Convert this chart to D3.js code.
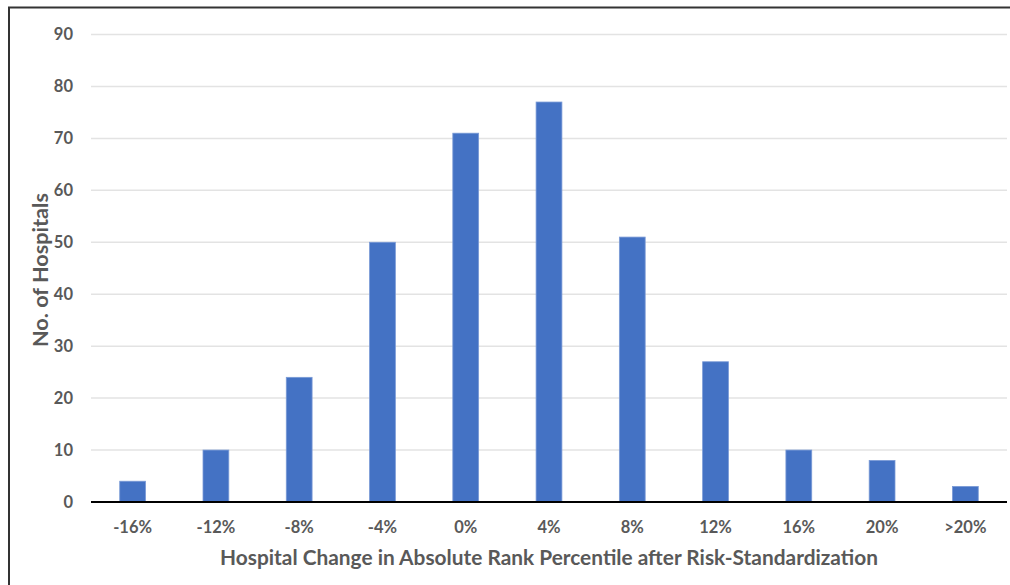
<!DOCTYPE html>
<html><head><meta charset="utf-8">
<script src="https://cdn.jsdelivr.net/npm/d3@7"></script>
<style>body{margin:0;background:#fff}svg{display:block}text{font-family:Lato,"Open Sans",sans-serif;font-weight:bold;fill:#595959}</style>
</head><body>
<svg id="c" width="1010" height="585"></svg>
<script>
const categories = ["-16%","-12%","-8%","-4%","0%","4%","8%","12%","16%","20%",">20%"];
const values = [4,10,24,50,71,77,51,27,10,8,3];
const yTicks = [0,10,20,30,40,50,60,70,80,90];
const xTitle = "Hospital Change in Absolute Rank Percentile after Risk-Standardization";
const yTitle = "No. of Hospitals";

const svg = d3.select("#c");
svg.append("rect").attr("x",9).attr("y",7.5).attr("width",1100).attr("height",700)
  .attr("fill","none").attr("stroke","#333").attr("stroke-width",2);

const pLeft=91, pRight=1007, pTop=34.5, pBottom=502;
const x = d3.scaleBand().domain(categories).range([pLeft,pRight]).paddingInner(0.69).paddingOuter(0.345);
const y = d3.scaleLinear().domain([0,90]).range([pBottom,pTop]);

svg.append("g").selectAll("line").data(yTicks.filter(d=>d>0)).join("line")
  .attr("x1",pLeft).attr("x2",pRight).attr("y1",d=>y(d)).attr("y2",d=>y(d))
  .attr("stroke","#e3e3e3").attr("stroke-width",1.5);

svg.append("g").selectAll("rect").data(values).join("rect")
  .attr("x",(d,i)=>x(categories[i])).attr("width",x.bandwidth())
  .attr("y",d=>y(d)).attr("height",d=>y(0)-y(d))
  .attr("fill","#4472C4").attr("stroke","#7a9ad6").attr("stroke-width",0.8);

svg.append("line").attr("x1",pLeft).attr("x2",pRight).attr("y1",y(0)).attr("y2",y(0))
  .attr("stroke","#000").attr("stroke-width",2);

svg.append("g").selectAll("text").data(yTicks).join("text")
  .attr("x",73).attr("y",d=>y(d)).attr("dy","0.36em").attr("text-anchor","end")
  .attr("font-size",16.5).text(d=>d);

svg.append("g").selectAll("text").data(categories).join("text")
  .attr("x",d=>x(d)+x.bandwidth()/2).attr("y",527).attr("dy","0.36em").attr("text-anchor","middle")
  .attr("font-size",16.5).text(d=>d);

svg.append("text").attr("x",220).attr("y",557).attr("dy","0.36em").attr("text-anchor","start")
  .attr("font-size",21).attr("textLength",658).attr("lengthAdjust","spacingAndGlyphs").text(xTitle);
svg.append("text").attr("transform","translate(40,347) rotate(-90)").attr("dy","0.36em").attr("text-anchor","start")
  .attr("font-size",21).attr("textLength",154).attr("lengthAdjust","spacingAndGlyphs").text(yTitle);
</script></body></html>
